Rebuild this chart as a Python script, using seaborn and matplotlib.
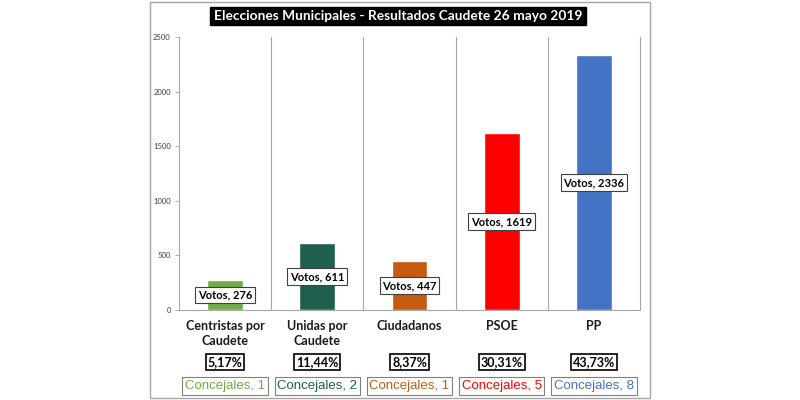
import matplotlib
matplotlib.use("Agg")
import matplotlib.pyplot as plt
import seaborn as sns
import pandas as pd
from matplotlib.patches import Rectangle

categories = ["Centristas por\nCaudete", "Unidas por\nCaudete", "Ciudadanos", "PSOE", "PP"]
votes = [276, 611, 447, 1619, 2336]
percents = ["5,17%", "11,44%", "8,37%", "30,31%", "43,73%"]
concejales = [1, 2, 1, 5, 8]
colors = ["#70AD47", "#1F5F50", "#C55A11", "#FF0000", "#4472C4"]
yticks = [0, 500, 1000, 1500, 2000, 2500]
title = "Elecciones Municipales - Resultados Caudete 26 mayo 2019"

sns.set_style("white")
plt.rcParams["font.family"] = ["Lato", "DejaVu Sans"]

df = pd.DataFrame({"cat": categories, "votes": votes})

fig = plt.figure(figsize=(8, 4), dpi=100)
fig.patch.set_facecolor("white")
# outer frame
fig.add_artist(Rectangle((150 / 800, 2 / 400), 500 / 800, 396 / 400, transform=fig.transFigure,
                         fill=False, edgecolor="#A6A6A6", linewidth=1.0))

ax = fig.add_axes([179 / 800, 1 - 310 / 400, (640 - 179) / 800, (310 - 37) / 400])
sns.barplot(data=df, x="cat", y="votes", hue="cat", palette=colors, width=0.39,
            legend=False, ax=ax, saturation=1)

ax.set_xlim(-0.5, 4.5)
ax.set_ylim(0, 2500)
ax.set_yticks(yticks)
ax.set_yticklabels([str(t) for t in yticks], fontsize=5.5, color="#404040")
ax.tick_params(axis="y", length=3, width=0.6, color="#A0A0A0", pad=3, left=True)
ax.set_xticks([])
ax.set_xlabel("")
ax.set_ylabel("")
ax.spines["top"].set_visible(False)
for s in ["left", "bottom", "right"]:
    ax.spines[s].set_color("#A6A6A6")
    ax.spines[s].set_linewidth(0.8)
for xb in [0.5, 1.5, 2.5, 3.5]:
    ax.axvline(xb, color="#A6A6A6", linewidth=0.8)

trans = ax.get_xaxis_transform()
h = 273.0
for i, (cat, v, p, c, col) in enumerate(zip(categories, votes, percents, concejales, colors)):
    ax.text(i, v / 2, f"Votos, {v}", ha="center", va="center", fontsize=8, fontweight="bold",
            color="black",
            bbox=dict(boxstyle="square,pad=0.25", facecolor="white", edgecolor="#404040", linewidth=0.8))
    ax.text(i, -10 / h, cat, transform=trans, ha="center", va="top", fontsize=9,
            fontweight="bold", linespacing=1.3, color="#1a1a1a")
    ax.text(i, -52 / h, p, transform=trans, ha="center", va="center", fontsize=9,
            fontweight="bold", color="black",
            bbox=dict(boxstyle="square,pad=0.15", facecolor="white", edgecolor="black", linewidth=1.2))
    ax.text(i, -76 / h, f"Concejales, {c}", transform=trans, ha="center", va="center",
            fontsize=9.5, color=col, family=["Liberation Sans", "DejaVu Sans"],
            bbox=dict(boxstyle="square,pad=0.2", facecolor="white", edgecolor="#808080", linewidth=0.8))

fig.text(398 / 800, 1 - 16 / 400, title, ha="center", va="center", fontsize=9.9,
         fontweight="bold", color="white",
         bbox=dict(boxstyle="square,pad=0.25", facecolor="black", edgecolor="black"))

fig.savefig("out.png", dpi=100, facecolor="white")
